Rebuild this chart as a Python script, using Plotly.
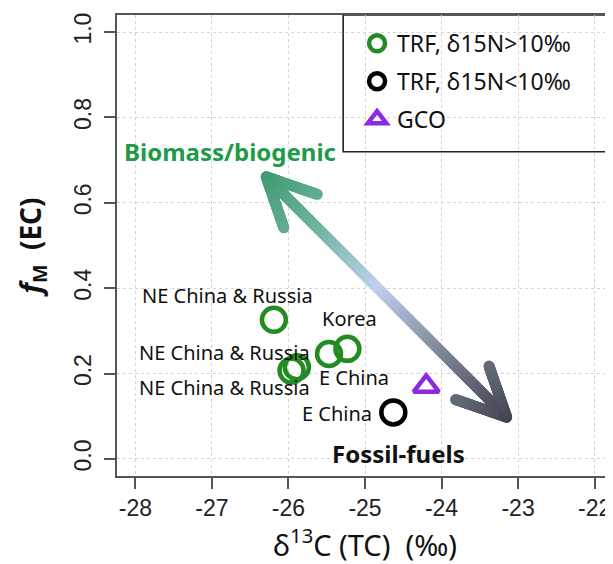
import numpy as np
import plotly.graph_objects as go

# ---------------- data ----------------
trf_hi_x = [-26.19, -25.96, -25.89, -25.47, -25.23]
trf_hi_y = [0.326, 0.207, 0.215, 0.246, 0.258]
trf_lo_x = [-24.63]
trf_lo_y = [0.109]
gco_x = [-24.20]
gco_y = [0.170]

series_names = ["TRF, δ15N>10‰", "TRF, δ15N<10‰", "GCO"]

label_texts = ["NE China & Russia", "Korea", "NE China & Russia",
               "NE China & Russia", "E China", "E China"]
label_x = [-26.80, -25.20, -26.83, -26.83, -25.14, -25.36]
label_y = [0.383, 0.330, 0.250, 0.168, 0.1915, 0.107]

x_ticks = [-28, -27, -26, -25, -24, -23, -22]
x_tick_labels = ["-28", "-27", "-26", "-25", "-24", "-23", "-22"]
y_ticks = [0.0, 0.2, 0.4, 0.6, 0.8, 1.0]
y_tick_labels = ["0.0", "0.2", "0.4", "0.6", "0.8", "1.0"]

# arrow end points (data coords) and source annotations
arrow_a = (-26.29, 0.661)
arrow_b = (-23.15, 0.098)
biomass_pos = (-26.76, 0.720)
fossil_pos = (-24.56, 0.012)

# ---------------- layout geometry ----------------
# page body adds an 8px margin, so the figure is 8px smaller than the window
W, H = 605, 556
ML, MR, MT, MB = 109, 0, 7, 88
x_range = [-28.24, -21.76]
y_range = [-0.04, 1.04]
PW, PH = W - ML - MR, H - MT - MB
sx = PW / (x_range[1] - x_range[0])
sy = PH / (y_range[1] - y_range[0])

GREEN = "#228B22"
PURPLE = "#8A2BE2"

fig = go.Figure()

# ---------------- gradient double arrow ----------------
def to_px(p):
    return np.array([(p[0] - x_range[0]) * sx, (p[1] - y_range[0]) * sy])

def to_data(q):
    return q[:, 0] / sx + x_range[0], q[:, 1] / sy + y_range[0]

A = to_px(arrow_a)
B = to_px(arrow_b)
AB = B - A
L = np.linalg.norm(AB)
u = AB / L
pts = [A + t * AB for t in np.linspace(0, 1, 300)]
arm_len, ang = 54, np.deg2rad(26)
for tip, d in ((A, u), (B, -u)):
    for sgn in (1, -1):
        c, s = np.cos(sgn * ang), np.sin(sgn * ang)
        dv = np.array([c * d[0] - s * d[1], s * d[0] + c * d[1]])
        for r in np.linspace(0, arm_len, 70):
            pts.append(tip + r * dv)
pts = np.array(pts)
tvals = np.clip(((pts - A) @ AB) / L**2, 0, 1)
ax_, ay_ = to_data(pts)
fig.add_trace(go.Scatter(
    x=ax_, y=ay_, mode="markers", showlegend=False, hoverinfo="skip",
    marker=dict(size=11, color=tvals, cmin=0, cmax=1,
                colorscale=[[0, "rgb(64,156,112)"], [0.25, "rgb(118,184,168)"],
                            [0.47, "rgb(194,208,236)"], [0.72, "rgb(132,139,158)"],
                            [1, "rgb(66,70,82)"]],
                line=dict(width=0))))

# ---------------- data points ----------------
fig.add_trace(go.Scatter(
    x=trf_hi_x, y=trf_hi_y, mode="markers", name=series_names[0], legendgroup="a",
    marker=dict(symbol="circle-open", size=24, color=GREEN, line=dict(width=4.5, color=GREEN))))
fig.add_trace(go.Scatter(
    x=trf_lo_x, y=trf_lo_y, mode="markers", name=series_names[1], legendgroup="b",
    marker=dict(symbol="circle-open", size=24, color="black", line=dict(width=4.5, color="black"))))
fig.add_trace(go.Scatter(
    x=gco_x, y=gco_y, mode="markers", name=series_names[2], legendgroup="c",
    marker=dict(symbol="triangle-up-open", size=22, color=PURPLE, line=dict(width=4.5, color=PURPLE))))

# ---------------- annotations ----------------
ann = []
for t, x, y in zip(label_texts, label_x, label_y):
    ann.append(dict(x=x, y=y, text=t, showarrow=False, xanchor="center", yanchor="middle",
                    font=dict(family="Noto Sans", size=20, color="#111111")))
ann.append(dict(x=biomass_pos[0], y=biomass_pos[1], text="<b>Biomass/biogenic</b>", showarrow=False,
                xanchor="center", yanchor="middle",
                font=dict(family="Noto Sans", size=24, color="#1E9A48")))
ann.append(dict(x=fossil_pos[0], y=fossil_pos[1], text="<b>Fossil-fuels</b>", showarrow=False,
                xanchor="center", yanchor="middle",
                font=dict(family="Noto Sans", size=24, color="#111111")))

# legend frame (R-style box in the top-right corner)
box_x0 = 0.456
box_y0 = 0.7035
shapes = [dict(type="rect", xref="paper", yref="paper", x0=box_x0, x1=1.0, y0=box_y0, y1=1.0,
               line=dict(color="#222222", width=1.6), fillcolor="white", layer="below")]

axis_common = dict(showline=True, mirror=True, linecolor="#555555", linewidth=1.5,
                   ticks="outside", ticklen=11, tickcolor="#555555", tickwidth=1.5,
                   showgrid=True, gridcolor="#d4d4d4", griddash="dot", gridwidth=1.2,
                   zeroline=False, automargin=False,
                   tickfont=dict(family="Liberation Sans", size=23, color="#222222"))

fig.update_layout(
    width=W, height=H, margin=dict(l=ML, r=MR, t=MT, b=MB, autoexpand=False),
    paper_bgcolor="white", plot_bgcolor="white",
    annotations=ann, shapes=shapes,
    showlegend=True,
    legend=dict(x=0.484, y=0.985, xanchor="left", yanchor="top", bgcolor="rgba(0,0,0,0)",
                borderwidth=0, traceorder="grouped", tracegroupgap=5,
                font=dict(family="Noto Sans", size=23, color="#111111"),
                itemsizing="trace"),
    xaxis=dict(range=x_range, tickvals=x_ticks, ticktext=x_tick_labels, ticklabelstandoff=0,
               title=dict(text="δ<sup>13</sup>C (TC)  (‰)", standoff=10,
                          font=dict(family="Noto Sans", size=29, color="#111111")),
               **axis_common),
    yaxis=dict(range=y_range, tickvals=y_ticks, ticktext=y_tick_labels, tickangle=-90,
               ticklabelstandoff=4,
               title=dict(text="<b><i>f</i></b><sub><b>M</b></sub><b>  (EC)</b>", standoff=20,
                          font=dict(family="Noto Sans", size=28, color="#111111")),
               **axis_common),
)

fig.write_html("out.html")
